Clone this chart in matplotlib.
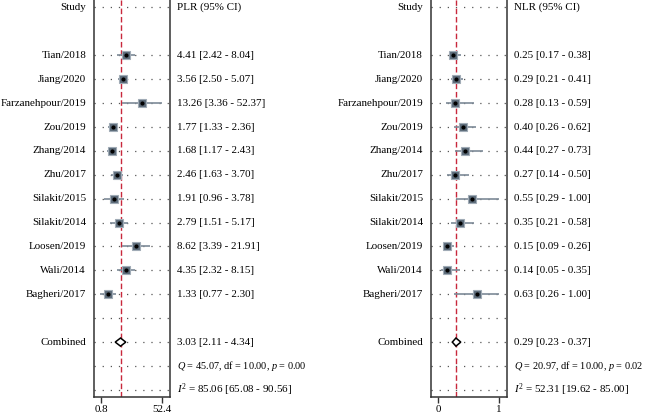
import matplotlib
matplotlib.use("Agg")
import matplotlib.pyplot as plt
import matplotlib.transforms as mtransforms
from matplotlib.patches import Polygon

plt.rcParams['font.family'] = ['Liberation Serif', 'DejaVu Serif']
plt.rcParams['mathtext.fontset'] = 'custom'
plt.rcParams['mathtext.rm'] = 'Liberation Serif'
plt.rcParams['mathtext.it'] = 'Liberation Serif:italic'

# ---------------- data ----------------
studies = ["Tian/2018", "Jiang/2020", "Farzanehpour/2019", "Zou/2019", "Zhang/2014",
           "Zhu/2017", "Silakit/2015", "Silakit/2014", "Loosen/2019", "Wali/2014",
           "Bagheri/2017"]

plr = [4.41, 3.56, 13.26, 1.77, 1.68, 2.46, 1.91, 2.79, 8.62, 4.35, 1.33]
plr_lo = [2.42, 2.50, 3.36, 1.33, 1.17, 1.63, 0.96, 1.51, 3.39, 2.32, 0.77]
plr_hi = [8.04, 5.07, 52.37, 2.36, 2.43, 3.70, 3.78, 5.17, 21.91, 8.15, 2.30]
plr_comb = [3.03, 2.11, 4.34]
plr_het = [45.07, 10.00, 0.00]
plr_i2 = [85.06, 65.08, 90.56]
plr_ticks = [0.8, 52.4]

nlr = [0.25, 0.29, 0.28, 0.40, 0.44, 0.27, 0.55, 0.35, 0.15, 0.14, 0.63]
nlr_lo = [0.17, 0.21, 0.13, 0.26, 0.27, 0.14, 0.29, 0.21, 0.09, 0.05, 0.26]
nlr_hi = [0.38, 0.41, 0.59, 0.62, 0.73, 0.50, 1.00, 0.58, 0.26, 0.35, 1.00]
nlr_comb = [0.29, 0.23, 0.37]
nlr_het = [20.97, 10.00, 0.02]
nlr_i2 = [52.31, 19.62, 85.00]
nlr_ticks = [0, 1]

# ---------------- figure ----------------
W, H = 647, 415
fig = plt.figure(figsize=(W / 100, H / 100), dpi=100)

row_top_px, row_step_px = 7.5, 23.9
ax_top_px, ax_bot_px = 0, 397
FS = 7.9


def make_panel(xl_px, xr_px, xlim, log, label_x_px, text_x_px,
               est, lo, hi, comb, het, i2, ticks, tick_labels, header):
    ax = fig.add_axes([xl_px / W, 1 - ax_bot_px / H, (xr_px - xl_px) / W,
                       (ax_bot_px - ax_top_px) / H])
    if log:
        ax.set_xscale('log')
    ax.set_xlim(*xlim)
    k0 = (ax_top_px - row_top_px) / row_step_px
    k1 = (ax_bot_px - row_top_px) / row_step_px
    ax.set_ylim(k1, k0)
    ax.set_yticks([])
    ax.set_xticks(ticks)
    ax.set_xticklabels(tick_labels)
    ax.xaxis.set_minor_locator(matplotlib.ticker.NullLocator())
    ax.tick_params(axis='x', direction='out', length=4, width=1,
                   labelsize=FS, pad=1.5, color='#333333')
    ax.spines['top'].set_visible(False)
    for s in ['left', 'right', 'bottom']:
        ax.spines[s].set_linewidth(1.1)
        ax.spines[s].set_color('#333333')

    n = len(est)
    rows = list(range(2, 2 + n))
    comb_row = n + 3
    dotted_rows = [0] + rows + [n + 2, comb_row, comb_row + 1, comb_row + 2]
    for r in dotted_rows:
        ax.axhline(r, color='#555555', lw=0.9, ls=(0, (1, 5.5)), zorder=1)

    # red reference line at combined estimate
    ax.axvline(comb[0], color='#c8283c', lw=1.0, ls=(0, (4, 2)), zorder=2)

    for r, e, l, h in zip(rows, est, lo, hi):
        ax.plot([l, h], [r, r], color='#7d8a97', lw=1.2, zorder=3,
                solid_capstyle='butt')
        ax.plot([e], [r], marker='s', ms=6.2, mfc='#5b6a78', mec='#a0abb6',
                mew=0.8, zorder=4, ls='none')
        ax.plot([e], [r], marker='o', ms=2.0, color='black', zorder=5, ls='none')

    d = 0.17
    diamond = Polygon([(comb[1], comb_row), (comb[0], comb_row - d),
                       (comb[2], comb_row), (comb[0], comb_row + d)],
                      closed=True, facecolor='white', edgecolor='black',
                      lw=1.1, zorder=6)
    ax.add_patch(diamond)

    trL = mtransforms.blended_transform_factory(fig.transFigure, ax.transData)
    kw = dict(transform=trL, va='center', clip_on=False)
    ax.text(label_x_px / W, 0, "Study", ha='right', fontsize=FS, **kw)
    ax.text(text_x_px / W, 0, header, ha='left', fontsize=FS, **kw)
    for r, name, e, l, h in zip(rows, studies, est, lo, hi):
        ax.text(label_x_px / W, r, name, ha='right', fontsize=FS, **kw)
        ax.text(text_x_px / W, r, f"{e:.2f} [{l:.2f} - {h:.2f}]", ha='left',
                fontsize=FS, **kw)
    ax.text(label_x_px / W, comb_row, "Combined", ha='right', fontsize=FS, **kw)
    ax.text(text_x_px / W, comb_row,
            f"{comb[0]:.2f} [{comb[1]:.2f} - {comb[2]:.2f}]", ha='left',
            fontsize=FS, **kw)
    ax.text(text_x_px / W, comb_row + 1,
            f"$Q$ = {het[0]:.2f}, df = {het[1]:.2f}, $p$ = {het[2]:.2f}",
            ha='left', fontsize=FS * 0.93, **kw)
    ax.text(text_x_px / W, comb_row + 2,
            r"$I^{\mathrm{2}}$" + f" = {i2[0]:.2f} [{i2[1]:.2f} - {i2[2]:.2f}]",
            ha='left', fontsize=FS, **kw)
    return ax


make_panel(94, 170, (0.497, 88.5), True, 86, 177,
           plr, plr_lo, plr_hi, plr_comb, plr_het, plr_i2,
           plr_ticks, ["0.8", "52.4"], "PLR (95% CI)")

make_panel(430.7, 507, (-0.125, 1.13), False, 423, 514,
           nlr, nlr_lo, nlr_hi, nlr_comb, nlr_het, nlr_i2,
           nlr_ticks, ["0", "1"], "NLR (95% CI)")

fig.savefig("out.png", dpi=100, facecolor='white')
